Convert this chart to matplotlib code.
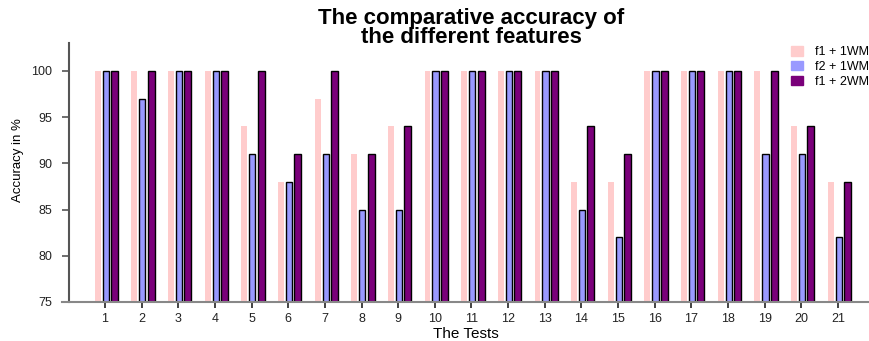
import matplotlib
matplotlib.use("Agg")
import matplotlib.pyplot as plt
import numpy as np

plt.rcParams['font.family'] = ['Liberation Sans', 'DejaVu Sans']

tests = list(range(1, 22))
f1_1wm = [100, 100, 100, 100, 94, 88, 97, 91, 94, 100, 100, 100, 100, 88, 88, 100, 100, 100, 100, 94, 88]
f2_1wm = [100, 97, 100, 100, 91, 88, 91, 85, 85, 100, 100, 100, 100, 85, 82, 100, 100, 100, 91, 91, 82]
f1_2wm = [100, 100, 100, 100, 100, 91, 100, 91, 94, 100, 100, 100, 100, 94, 91, 100, 100, 100, 100, 94, 88]
series_labels = ["f1 + 1WM", "f2 + 1WM", "f1 + 2WM"]
colors = ["#FFCCCC", "#9999FF", "#7A007A"]

W, H = 870, 341
fig = plt.figure(figsize=(W / 100, H / 100), dpi=100)
ax = fig.add_axes([62 / W, 1 - 302 / H, (870 - 62) / W, (302 - 43) / H])

x = np.array(tests, dtype=float)
ax.bar(x - 0.2, np.array(f1_1wm) - 75, bottom=75, width=0.16, color=colors[0],
       label=series_labels[0], linewidth=0)
ax.bar(x + 0.02, np.array(f2_1wm) - 75, bottom=75, width=0.17, color=colors[1],
       edgecolor="black", linewidth=1, label=series_labels[1])
ax.bar(x + 0.26, np.array(f1_2wm) - 75, bottom=75, width=0.19, color=colors[2],
       edgecolor="black", linewidth=1, label=series_labels[2])

ax.set_xlim(1 - 43 / 36.65, 21 + 32 / 36.65)
ax.set_ylim(75, 103.03)

ax.spines['top'].set_visible(False)
ax.spines['right'].set_visible(False)
ax.spines['left'].set_position(('data', 0.02))
ax.spines['left'].set_color("#555555")
ax.spines['left'].set_linewidth(1.5)
ax.spines['bottom'].set_color("#888888")
ax.spines['bottom'].set_linewidth(1.5)

ax.set_xticks(tests)
ax.set_xticklabels([str(t) for t in tests], fontsize=9, color="#222222")
ax.set_yticks([75, 80, 85, 90, 95, 100])
ax.set_yticklabels(["75", "80", "85", "90", "95", "100"], fontsize=9, color="#222222")
ax.tick_params(axis='x', length=4, width=1.2, pad=4, color="#222222")
ax.tick_params(axis='y', length=5, width=1.2, pad=7, color="#555555")

ax.set_xlabel("The Tests", fontsize=11, labelpad=1)
fig.text(18 / W, 1 - 160 / H, "Accuracy in %", rotation=90, fontsize=9.5,
         ha='center', va='center')

fig.text(471 / W, 1 - 28 / H, "The comparative accuracy of\nthe different features",
         fontsize=16, fontweight='bold', ha='center', va='center', linespacing=0.9)

handles = [plt.Rectangle((0, 0), 1, 1, color=c) for c in colors]
fig.legend(handles, series_labels, loc='upper left', bbox_to_anchor=(786 / W, 1 - 41 / H),
           frameon=False, fontsize=9, handlelength=1.0, handleheight=0.8,
           handletextpad=0.9, labelspacing=0.22, borderaxespad=0)

fig.savefig("out.png", dpi=100)
